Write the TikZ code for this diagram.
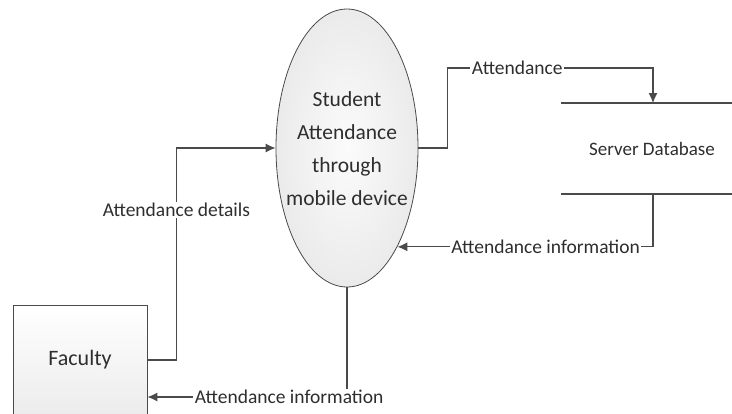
\documentclass[tikz,border=0pt]{standalone}
\usepackage{fontspec}
\setmainfont{Carlito}
\usetikzlibrary{shapes.geometric,arrows.meta}
\definecolor{ln}{HTML}{4A4A4A}
\definecolor{tx}{HTML}{2E2E2E}
\tikzset{
  flow/.style={draw=ln, line width=1.1pt, -{Latex[length=10pt,width=9pt]}},
  plain/.style={draw=ln, line width=1.1pt},
  lbl/.style={fill=white, inner sep=1.5pt, text=tx, font=\fontsize{19.5}{21}\selectfont},
  proc/.style={ellipse, draw=ln, line width=0.8pt, inner color=gray!3, outer color=gray!16,
     minimum width=142pt, minimum height=278pt, inner sep=0pt},
  proctext/.style={align=center, text=tx, inner sep=0pt, font=\fontsize{21.5}{33}\selectfont},
  ent/.style={rectangle, draw=ln, line width=0.8pt, top color=white, bottom color=gray!15,
     minimum width=134pt, minimum height=110pt, inner sep=0pt, text=tx, font=\fontsize{22}{26}\selectfont},
  store/.style={text=tx, font=\fontsize{19}{21}\selectfont},
}
\begin{document}
\begin{tikzpicture}[x=1pt,y=-1pt]
\useasboundingbox (0,0) rectangle (732,413);
\node[proc] (p) at (347,148) {};
\node[proctext] (pt) at (347,149) {Student\\Attendance\\through\\mobile device};
\node[ent] (f) at (80,360) {Faculty};
\node[store] (db) at (652,149) {Server Database};
\coordinate (dtl) at (561,103);
\coordinate (dtr) at (732,103);
\coordinate (dbl) at (561,194);
\coordinate (dbr) at (732,194);
\coordinate (din) at (653,103);
\coordinate (dtop) at (653,68);
\coordinate (dout) at (653,194);
\draw[plain] (dtl) -- (dtr);
\draw[plain] (dbl) -- (dbr);
% Faculty -> process
\draw[flow] (f.east) -- ++(29,0) |- (p.west)
  node[lbl, pos=0.354] {Attendance details};
% process -> database
\draw[flow] (p.east) -- ++(29,0) |- (dtop) node[lbl, pos=0.67] {Attendance} -- (din);
% database -> process
\draw[flow] (dout) |- (p.-63.2) node[lbl, pos=0.71] {Attendance information};
% process -> faculty
\draw[flow] (p.south) |- (f.east |- 0,397) node[lbl, pos=0.645] {Attendance information};
\end{tikzpicture}
\end{document}
